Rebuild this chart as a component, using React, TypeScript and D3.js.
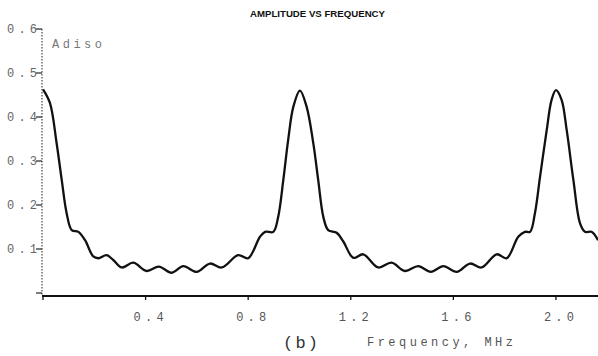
import React from "react";
import * as d3 from "d3";

const freq = [0, 0.027, 0.053, 0.073, 0.092, 0.112, 0.138, 0.164, 0.196, 0.216, 0.248, 0.274, 0.307, 0.352, 0.404, 0.452, 0.502, 0.547, 0.599, 0.651, 0.697, 0.761, 0.8, 0.846, 0.866, 0.898, 0.917, 0.937, 0.956, 0.976, 1.002, 1.028, 1.054, 1.073, 1.093, 1.112, 1.145, 1.171, 1.21, 1.249, 1.307, 1.359, 1.411, 1.463, 1.512, 1.561, 1.613, 1.665, 1.71, 1.769, 1.808, 1.853, 1.879, 1.899, 1.918, 1.938, 1.964, 1.983, 2.0, 2.022, 2.042, 2.068, 2.094, 2.113, 2.139, 2.164];
const amp = [0.463, 0.432, 0.341, 0.257, 0.182, 0.143, 0.139, 0.12, 0.083, 0.079, 0.086, 0.075, 0.058, 0.069, 0.05, 0.06, 0.046, 0.061, 0.048, 0.067, 0.058, 0.086, 0.079, 0.128, 0.139, 0.139, 0.173, 0.257, 0.348, 0.423, 0.46, 0.423, 0.34, 0.257, 0.173, 0.143, 0.137, 0.117, 0.08, 0.088, 0.058, 0.069, 0.05, 0.061, 0.048, 0.061, 0.048, 0.067, 0.058, 0.088, 0.079, 0.128, 0.139, 0.139, 0.181, 0.264, 0.37, 0.439, 0.461, 0.439, 0.37, 0.257, 0.158, 0.139, 0.139, 0.12];

const xTicks = [0.4, 0.8, 1.2, 1.6, 2.0];
const xTickLabels = ["0.4", "0.8", "1.2", "1.6", "2.0"];
const yTicks = [0, 0.1, 0.2, 0.3, 0.4, 0.5, 0.6];
const yTickLabels = ["", "0.1", "0.2", "0.3", "0.4", "0.5", "0.6"];

const title = "AMPLITUDE VS FREQUENCY";
const yLabel = "Adiso";
const figLabel = "(b)";
const xLabel = "Frequency, MHz";

export default function App() {
  const W = 598, H = 356;
  const x = d3.scaleLinear().domain([0, 2.164]).range([43, 598]);
  const y = d3.scaleLinear().domain([0, 0.6]).range([293, 29]);
  const pts: [number, number][] = freq.map((f, i) => [f, amp[i]]);
  const line = d3
    .line<[number, number]>()
    .x((d) => x(d[0]))
    .y((d) => y(d[1]))
    .curve(d3.curveCatmullRom.alpha(0.5));
  const mono = "'Liberation Mono', 'DejaVu Sans Mono', monospace";
  return (
    <svg
      width={W}
      height={H}
      style={{ position: "absolute", left: 0, top: 0, background: "#fff" }}
    >
      <rect x={0} y={0} width={W} height={H} fill="#fff" />
      <text
        x={250}
        y={17}
        fontFamily="'Liberation Sans', Arial, sans-serif"
        fontWeight="bold"
        fontSize={8.5}
        textLength={135}
        lengthAdjust="spacingAndGlyphs"
        fill="#111"
      >
        {title}
      </text>
      {/* y axis (dotted) */}
      <line x1={42} x2={42} y1={y(0.6)} y2={296} stroke="#555" strokeWidth={1.3} strokeDasharray="1.5 1.5" />
      {yTicks.map((t, i) => (
        <g key={"yt" + i}>
          <line x1={36} x2={42} y1={y(t)} y2={y(t)} stroke="#333" strokeWidth={1.3} />
          {yTickLabels[i] && (
            <text
              x={7}
              y={y(t) + 4}
              fontFamily={mono}
              fontSize={12}
              textLength={30}
              lengthAdjust="spacing"
              fill="#666"
            >
              {yTickLabels[i]}
            </text>
          )}
        </g>
      ))}
      <text x={52} y={48} fontFamily={mono} fontSize={12} textLength={50} lengthAdjust="spacing" fill="#777">
        {yLabel}
      </text>
      {/* x axis */}
      <line x1={42} x2={598} y1={296} y2={296} stroke="#111" strokeWidth={2} />
      <line x1={43} x2={43} y1={296} y2={300} stroke="#111" strokeWidth={1.3} />
      {xTicks.map((t, i) => (
        <g key={"xt" + i}>
          <line x1={x(t)} x2={x(t)} y1={296} y2={300} stroke="#111" strokeWidth={1.3} />
          <text
            x={x(t) - 12}
            y={321}
            fontFamily={mono}
            fontSize={12}
            textLength={30}
            lengthAdjust="spacing"
            fill="#555"
          >
            {xTickLabels[i]}
          </text>
        </g>
      ))}
      <text x={283} y={348} fontFamily={mono} fontSize={17} textLength={35} lengthAdjust="spacing" fill="#333">
        {figLabel}
      </text>
      <text x={367} y={346} fontFamily={mono} fontSize={12} textLength={146} lengthAdjust="spacing" fill="#555">
        {xLabel}
      </text>
      <path d={line(pts) ?? ""} fill="none" stroke="#111" strokeWidth={2.3} strokeLinejoin="round" />
    </svg>
  );
}
